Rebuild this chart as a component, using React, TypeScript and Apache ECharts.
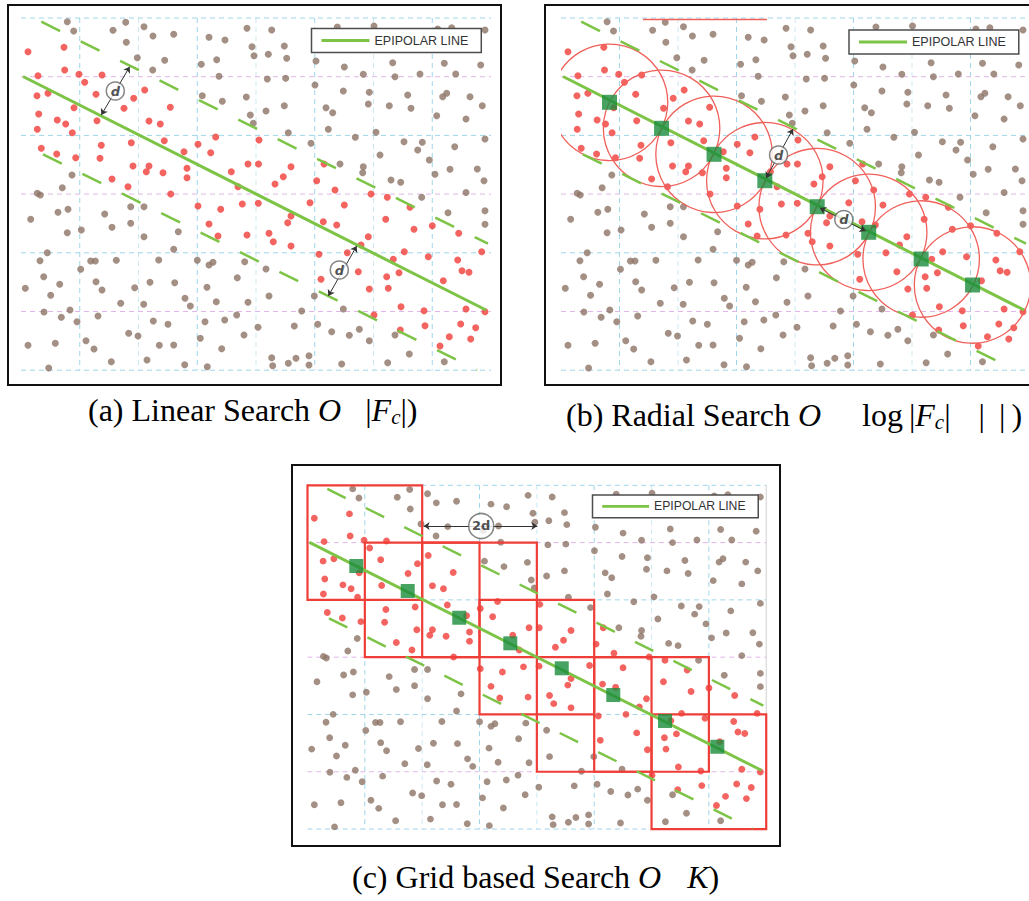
import React, { useEffect, useRef } from "react";
import * as echarts from "echarts";

// ---------- data (coordinates in the scale of panel (a) pixels) ----------
const brownPoints: number[][] = [
  [67.3,21.7],[73.7,31],[113,30.3],[125.7,22.3],[144,26.7],[153,36],[173.7,34.3],[126.3,42.3],[137.3,57.7],[164.7,60.3],[152.7,70],[209,37.3],[225,40],[201.3,64.3],[216.7,59.7],[219,76.3],[202.3,95.7],[222.3,101.3],[246.3,97],[247,28.3],[252,46.7],[254,55.7],[250.3,115],[253.3,123.3],[72,175],[62.3,187.7],[37.3,193.3],[40.3,195],
  [271.7,30],[268.3,54.3],[284.3,46],[286.7,58.3],[267.3,79],[285.7,78.3],[266,111],[284.3,105.7],[288.3,132.7],[311,143.3],[316,61],[337.3,27],[374,26],[344.3,67],[363.3,74.3],[392.7,62.7],[395,76.7],[420,74],[444.3,63.3],[455.7,74],[480.7,65],[315,85],[343.3,91],[369.3,92.3],[368.3,104],[389.3,105.7],[407.7,95],[411,108.3],[442.7,96.7],[446.7,93.3],[470,96.7],[482.3,105.7],[436.7,115.7],[466,119],[326,107.7],[332.7,112.7],[328.3,129.3],[355.3,137.3],[376,132.3],[404,141.7],[422.3,142.3],[417.7,150],[380,155],[429.3,160],[454.7,146.7],[485,139],[435,174.3],[450,169.3],[477.3,169],[484,180.7],[340,164],[363.3,166.7],[362.7,172.7],[391,180],[400.7,182.3],[421.7,197.3],[466,192.5],[437.7,29],[451.7,27.7],[485,30],
  [30.7,219.3],[58,212.3],[68,209.3],[67.3,232.7],[81.3,230],[104.7,214],[112,227.3],[130.7,206.7],[144,206.7],[130.7,223.3],[144,236.7],[178.3,231.7],[173.7,249.3],[47.3,252.7],[40,260.7],[43.7,276.7],[25.3,288.3],[59.7,284.3],[50.7,295.3],[44,312],[61.3,317.3],[70,310],[77,321.7],[28,345.3],[55.3,343.3],[48.7,368],[80.7,269.3],[90.7,261],[95.3,261],[116.3,260.3],[96,281.7],[102,290],[120.7,303.3],[98,316],[86,340.7],[94,349],[111.3,361.7],[158.7,260],[150,282.3],[134.7,287.7],[143.7,304.3],[174.7,282.7],[185,298.3],[190.3,306],[128.7,333.3],[138,336],[153.3,321],[168,324.3],[159.3,345.3],[173.7,345],[147,360],[184.7,364.7],[197.3,260.3],[209,265],[213,262.3],[244.7,261.7],[237.3,277.7],[207,287.3],[216.3,301.7],[248,302.3],[205,321.7],[224.7,320],[236.7,315],[258,327.3],[200.3,338.3],[244,335],[221.7,348.7],[207.3,366.7],
  [448,212.7],[485,210.7],[485,224.3],[266,269],[269,296],[314.3,296],[301.7,311],[294.3,326],[317.7,324.3],[331.7,331.7],[343.3,309],[349.3,335.3],[359.3,329.3],[369.3,340.7],[395,335],[271.7,357.7],[272.7,365.7],[288.3,363.3],[296,358.3],[309,355.7],[309,365],[341.7,364],[387.7,362.7],[409.3,354],[444.3,361.7]
];

const redPoints: number[][] = [
  [28,51.7],[64,47.3],[64.7,70],[79,74.3],[102,75],[84.7,82.3],[38,75.7],[37,95.7],[48,93.3],[74,107.7],[96,94.3],[133.7,98.3],[144.7,90],[124,108.3],[170.3,107.3],[38.7,114],[57.3,120],[65.7,124],[72.3,132.7],[37.3,129.3],[97,120.7],[149,121],[160.3,124],[41.3,148.3],[56.7,154],[75.7,157.7],[101.3,145.3],[100,158.3],[131.3,142.7],[164.3,140.7],[184,151.7],[198,144.3],[210.7,152.7],[215.7,137],[133,166],[149,166],[146.3,171.7],[163,172.7],[187,168.3],[187,177.7],[112,179],[128,186.7],[170.7,194],[231.3,171.7],[248,164],[258.5,164],[238,186.7],[259,140],
  [291,166.7],[283.3,176.7],[275,184],[324,164],[316.7,180.7],[335,190],[371,194],[387.3,197.3],
  [198,206],[220.7,209.3],[242.3,204],[258.3,203.3],[209,224],[218,236],[247,235],
  [310,202.7],[344.3,205],[291,216],[287.7,222.7],[323.3,221.7],[336.7,225],[269,233.3],[273.3,241.7],[291,246],[319,254.3],[347.3,252.7],[361,245],[368.3,236.7],[385.7,219.3],[410,207.3],[414,229.3],[432.3,225.7],[458.7,233.3],[481.7,251.7],[404.3,251.7],[393.3,259.3],[428.3,256.7],[457.7,260],[462,270.7],[469,272.3],[358.3,271.7],[321,279.3],[369.3,289],[386.7,276.7],[388.3,288.3],[399,272.7],[443.3,280.7],[401,306.7],[424,310.7],[466,309],[485,311.7],[374,315],[425,325.7],[460.7,324],[475.7,327.7],[400.3,330],[449.3,336.7],[470.7,339],[440,346]
];

const epipolarLine: number[][] = [[23, 76.5], [486, 310]];
const upperBound: number[][] = [[41.3, 21.7], [488, 243.7]];
const lowerBound: number[][] = [[43, 154.3], [477, 370]];

const xTicks = [21, 79.75, 138.5, 197.25, 256, 314.75, 373.5, 432.25, 491];
const yTicks = [18, 76.7, 135.4, 194.1, 252.8, 311.5, 370.2];
const vLineKinds = [3, 0, 1, 0, 1, 0, 1, 0, 3]; // 0 cyan, 1 faint cyan, 2 pink, 3 edge
const hLineKinds = [0, 2, 0, 2, 0, 2, 0];

const samplesB: number[][] = [[69.7,102.3],[122,128.3],[174.7,154.3],[225.7,180.7],[278.3,206.7],[330,232.3],[382.7,259],[434.3,285]];
const samplesC: number[][] = [[71,100.7],[123.7,126.3],[176.5,153.7],[228.8,179.9],[281.5,205.5],[334.3,232.9],[387.3,259.5],[440.9,285.9]];
const searchRadius = 58.5;
const gridBlocks: number[][] = [[0,0],[1,1],[2,1],[3,2],[4,3],[5,3],[6,4]]; // top-left cell of 2x2 blocks

const dArrowsA: number[][][] = [[[101.3,115],[129.7,66.7]], [[356.7,246],[328.3,296]]];
const dLabelsA: number[][] = [[115.3,91], [339.3,270]];
const dArrowsB: number[][][] = [[[227,178],[254,129]], [[281,208],[327,231]]];
const dLabelsB: number[][] = [[239.5,155], [305,219.5]];
const dArrowsC: number[][][] = [[[140,59.7],[256.5,59.7]]];
const dLabelsC: number[][] = [[199,59.7]];

// ---------- styles ----------
const BROWN = "#8c7365";
const RED = "#f03c37";
const GREEN = "#7dc346";
const DARK_GREEN = "#1a8c3c";
const CIRCLE_RED = "#f0605a";
const BLOCK_RED = "#ef3e38";
const GRID_STYLES = [
  { color: "#9fd6ea", dash: true, opacity: 1 },
  { color: "#bfe4f0", dash: true, opacity: 0.8 },
  { color: "#e2b6ea", dash: true, opacity: 1 },
  { color: "#d0d0d0", dash: false, opacity: 0.0 },
];

const panels = [
  { left: 21, top: 18, scale: 1 },
  { left: 561, top: 18, scale: 1 },
  { left: 307.5, top: 485.3, scale: 0.976 },
];

function gridLineData() {
  const out: number[][] = [];
  for (let i = 1; i < xTicks.length; i++) out.push([xTicks[i], yTicks[0], xTicks[i], yTicks[yTicks.length - 1], vLineKinds[i]]);
  for (let j = 0; j < yTicks.length; j++) out.push([xTicks[0], yTicks[j], xTicks[xTicks.length - 1], yTicks[j], hLineKinds[j]]);
  return out;
}

function panelSeries(k: number): any[] {
  const s = panels[k].scale;
  const ax = { xAxisIndex: k, yAxisIndex: k };
  const list: any[] = [];
  list.push({
    type: "custom", ...ax, z: 1, silent: true, data: gridLineData(),
    renderItem: (_p: any, api: any) => {
      const p1 = api.coord([api.value(0), api.value(1)]);
      const p2 = api.coord([api.value(2), api.value(3)]);
      const kind = api.value(4);
      const st = GRID_STYLES[kind];
      const op = kind === 3 && k === 2 ? 1 : st.opacity;
      return {
        type: "line",
        shape: { x1: p1[0], y1: p1[1], x2: p2[0], y2: p2[1] },
        style: { stroke: st.color, lineWidth: 1, lineDash: st.dash ? [5 * s, 4 * s] : null, opacity: op },
      };
    },
  });
  list.push({ type: "scatter", ...ax, z: 2, silent: true, symbolSize: 7 * s, data: brownPoints, itemStyle: { color: BROWN } });
  list.push({ type: "scatter", ...ax, z: 2, silent: true, symbolSize: 7 * s, data: redPoints, itemStyle: { color: RED } });

  if (k === 1) {
    list.push({
      type: "custom", ...ax, z: 3, silent: true, clip: true, data: samplesB,
      renderItem: (_p: any, api: any) => {
        const c = api.coord([api.value(0), api.value(1)]);
        const r = api.size([searchRadius, searchRadius])[0];
        return { type: "circle", shape: { cx: c[0], cy: c[1], r }, style: { fill: "none", stroke: CIRCLE_RED, lineWidth: 1.3 } };
      },
    });
  }
  if (k === 2) {
    list.push({
      type: "custom", ...ax, z: 3, silent: true, data: gridBlocks,
      renderItem: (_p: any, api: any) => {
        const i = api.value(0), j = api.value(1);
        const p0 = api.coord([xTicks[i], yTicks[j]]);
        const p1 = api.coord([xTicks[i + 2], yTicks[j + 2]]);
        return {
          type: "rect",
          shape: { x: p0[0], y: p0[1], width: p1[0] - p0[0], height: p1[1] - p0[1] },
          style: { fill: "none", stroke: BLOCK_RED, lineWidth: 2.2 },
        };
      },
    });
  }

  list.push({
    type: "line", name: "EPIPOLAR LINE", ...ax, z: 4, silent: true, symbol: "none", data: epipolarLine,
    itemStyle: { color: GREEN },
    lineStyle: { color: GREEN, width: 3 * s },
  });
  [upperBound, lowerBound].forEach((b, bi) => {
    list.push({
      type: "line", name: bi === 0 ? "upper" : "lower", ...ax, z: 4, silent: true, symbol: "none", data: b,
      itemStyle: { color: GREEN },
      lineStyle: { color: GREEN, width: 2.5 * s, type: [21 * s, 23 * s] },
    });
  });

  if (k === 1 || k === 2) {
    list.push({
      type: "scatter", ...ax, z: 6, silent: true, symbol: "rect", symbolSize: k === 1 ? 15 : 14,
      data: k === 1 ? samplesB : samplesC, itemStyle: { color: DARK_GREEN },
    });
  }

  const arrows = k === 0 ? dArrowsA : k === 1 ? dArrowsB : dArrowsC;
  const labels = k === 0 ? dLabelsA : k === 1 ? dLabelsB : dLabelsC;
  list.push({
    type: "lines", coordinateSystem: "cartesian2d", ...ax, z: 7, silent: true,
    symbol: ["arrow", "arrow"], symbolSize: 6,
    lineStyle: { color: "#333", width: 1, opacity: 1 },
    data: arrows.map((c) => ({ coords: c })),
  });
  list.push({
    type: "scatter", ...ax, z: 8, silent: true, symbol: "circle",
    symbolSize: k === 2 ? 25 : 18, data: labels,
    itemStyle: { color: "#fff", borderColor: "#666", borderWidth: 1.5 },
    label: {
      show: true, position: "inside", formatter: k === 2 ? "2d" : "d",
      fontSize: 13, fontWeight: "bold", fontStyle: k === 2 ? "normal" : "italic",
      color: "#222", fontFamily: "DejaVu Sans",
    },
  });
  return list;
}

function buildOption(): any {
  const legendPos = [
    { left: 311.5, top: 28.5, s: 1 },
    { left: 849, top: 30, s: 1 },
    { left: 592.5, top: 495, s: 0.976 },
  ];
  const serif = "'Liberation Serif', 'Times New Roman', serif";
  const rich = {
    n: { fontFamily: serif, fontSize: 32, color: "#111" },
    i: { fontFamily: serif, fontSize: 32, fontStyle: "italic", color: "#111" },
    s: { fontFamily: serif, fontSize: 21, fontStyle: "italic", color: "#111", padding: [13, 0, 0, 0] },
    g1: { width: 24 },
    g2: { width: 41 },
    g3: { width: 28 },
    g4: { width: 14 },
    g5: { width: 26 },
    g6: { width: 6 },
    g7: { width: 6 },
  };
  return {
    animation: false,
    backgroundColor: "#fff",
    grid: panels.map((p) => ({ left: p.left, top: p.top, width: 470 * p.scale, height: 352.2 * p.scale })),
    xAxis: panels.map((_p, k) => ({ gridIndex: k, type: "value", min: 21, max: 491, show: false })),
    yAxis: panels.map((_p, k) => ({ gridIndex: k, type: "value", min: 18, max: 370.2, inverse: true, show: false })),
    legend: legendPos.map((l) => ({
      data: ["EPIPOLAR LINE"], left: l.left, top: l.top, selectedMode: false,
      icon: "rect", itemWidth: 48 * l.s, itemHeight: 3 * l.s,
      itemStyle: { color: GREEN, borderWidth: 0 },
      padding: [5.5 * l.s, 13 * l.s, 5.5 * l.s, 10 * l.s],
      borderColor: "#4d4d4d", borderWidth: 1.5, backgroundColor: "#fff",
      textStyle: { fontSize: 12.5 * l.s, color: "#333", fontFamily: "Liberation Sans" },
    })),
    series: [...panelSeries(0), ...panelSeries(1), ...panelSeries(2)],
    graphic: [
      { type: "rect", shape: { x: 8, y: 5, width: 493, height: 380 }, style: { fill: "none", stroke: "#111", lineWidth: 2 }, z: 100 },
      { type: "rect", shape: { x: 545, y: 5, width: 500, height: 380 }, style: { fill: "none", stroke: "#111", lineWidth: 2 }, z: 100 },
      { type: "rect", shape: { x: 292, y: 465, width: 488, height: 381 }, style: { fill: "none", stroke: "#111", lineWidth: 2 }, z: 100 },
      { type: "line", shape: { x1: 643, y1: 19.5, x2: 767, y2: 19.5 }, style: { stroke: "#f0605a", lineWidth: 1.3 }, z: 100 },
      {
        type: "text", left: 88, top: 394, z: 100,
        style: { text: "{n|(a) Linear Search }{i|O}{g1| }{n||}{i|F}{s|c}{n||)}", rich },
      },
      {
        type: "text", left: 566, top: 399, z: 100,
        style: { text: "{n|(b) Radial Search }{i|O}{g2| }{n|log}{g7| }{n||}{i|F}{s|c}{n||}{g3| }{n||}{g4| }{n||}{g6| }{n|)}", rich },
      },
      {
        type: "text", left: 352, top: 861, z: 100,
        style: { text: "{n|(c) Grid based Search }{i|O}{g5| }{i|K}{n|)}", rich },
      },
    ],
  };
}

export default function App() {
  const ref = useRef<HTMLDivElement>(null);
  useEffect(() => {
    const chart = echarts.init(ref.current!, undefined, { renderer: "svg" });
    chart.setOption(buildOption());
    return () => chart.dispose();
  }, []);
  return (
    <div
      ref={ref}
      style={{ position: "fixed", left: 0, top: 0, width: 1029, height: 901, background: "#fff" }}
    />
  );
}
